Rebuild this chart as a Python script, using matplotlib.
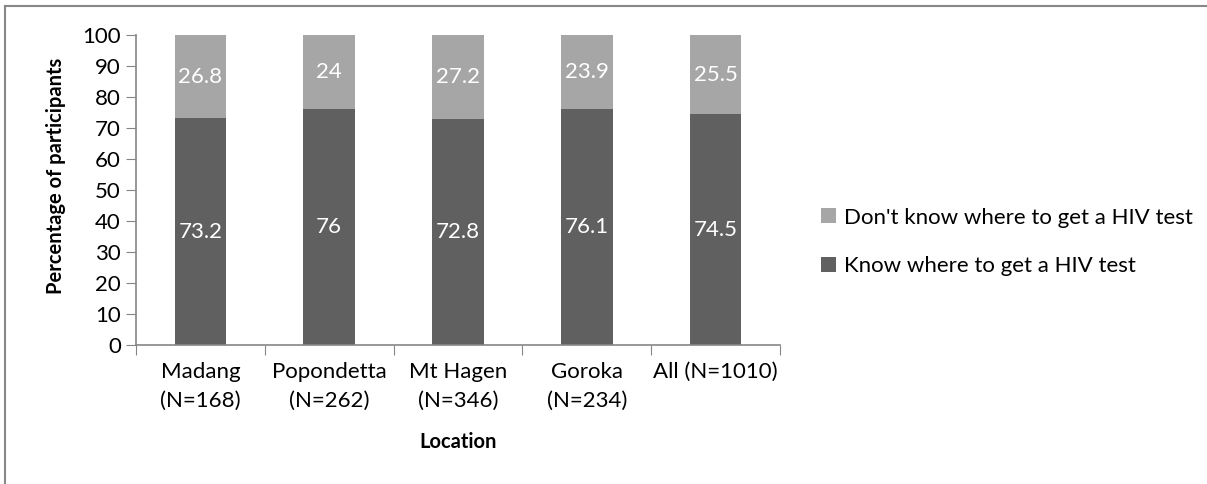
import numpy as np
import matplotlib.pyplot as plt
from matplotlib.lines import Line2D

plt.rcParams['font.family'] = ['Lato', 'DejaVu Sans']

locations = ['Madang\n(N=168)', 'Popondetta\n(N=262)', 'Mt Hagen\n(N=346)',
             'Goroka\n(N=234)', 'All (N=1010)']
know = [73.2, 76, 72.8, 76.1, 74.5]
dont_know = [26.8, 24, 27.2, 23.9, 25.5]
know_labels = ['73.2', '76', '72.8', '76.1', '74.5']
dont_labels = ['26.8', '24', '27.2', '23.9', '25.5']

dark = '#606060'
light = '#A6A6A6'
axis_col = '#868686'

fig = plt.figure(figsize=(12.07, 4.84), dpi=100)
# outer chart border (only top and left edges visible in the crop)
fig.lines.append(Line2D([0.0045, 1.0], [0.987, 0.987], transform=fig.transFigure,
                        color='#888888', linewidth=1.5))
fig.lines.append(Line2D([0.0045, 0.0045], [0.0, 0.987], transform=fig.transFigure,
                        color='#888888', linewidth=1.5))
ax = fig.add_axes([0.1127, 0.2872, 0.5335, 0.6405])

x = np.arange(len(locations))
b1 = ax.bar(x, know, width=0.4, color=dark, label='Know where to get a HIV test')
b2 = ax.bar(x, dont_know, width=0.4, bottom=know, color=light,
            label="Don't know where to get a HIV test")

for i in range(len(x)):
    ax.text(x[i], know[i] / 2, know_labels[i], ha='center', va='center',
            color='white', fontsize=16)
    ax.text(x[i], know[i] + dont_know[i] / 2, dont_labels[i], ha='center', va='center',
            color='white', fontsize=16)

ax.set_xlim(-0.5, len(x) - 0.5)
ax.set_ylim(0, 100)
ax.set_yticks(np.arange(0, 101, 10))
ax.set_xticks(np.arange(-0.5, len(x), 1), minor=False)
ax.set_xticklabels([])
ax.set_xticks(x, minor=True)
ax.set_xticklabels(locations, minor=True, fontsize=16, linespacing=1.6)
ax.tick_params(axis='x', which='minor', length=0, pad=12)
ax.tick_params(axis='x', which='major', length=7, color=axis_col, direction='out')
ax.tick_params(axis='y', length=7, color=axis_col, labelsize=16, pad=4)

for s in ['top', 'right']:
    ax.spines[s].set_visible(False)
for s in ['left', 'bottom']:
    ax.spines[s].set_color(axis_col)
    ax.spines[s].set_linewidth(1.2)

ax.set_ylabel('Percentage of participants', fontsize=14.5, fontweight='bold')
ax.yaxis.set_label_coords(-0.108, 0.545)
ax.set_xlabel('Location', fontsize=14.5, fontweight='bold', labelpad=15)

handles, labels = ax.get_legend_handles_labels()
fig.legend(handles[::-1], labels[::-1], loc='center left', bbox_to_anchor=(0.664, 0.5),
           frameon=False, fontsize=16, handlelength=0.65, handleheight=0.65,
           handletextpad=0.35, labelspacing=1.3)

fig.savefig('out.png', dpi=100)
